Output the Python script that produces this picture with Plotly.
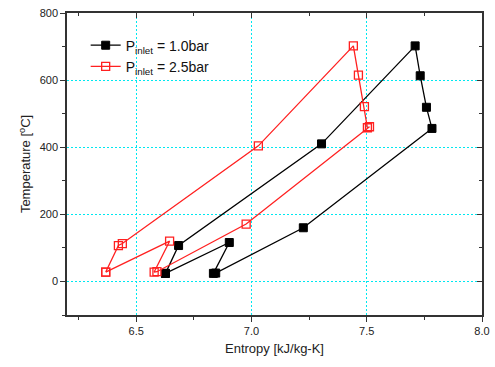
import plotly.graph_objects as go

# P_inlet = 1.0 bar cycle
s_10 = [6.627, 6.684, 7.304, 7.710, 7.732, 7.759, 7.783, 7.225, 6.845, 6.835, 6.904, 6.627]
t_10 = [24, 107, 410, 702, 613, 519, 456, 160, 25, 24, 116, 24]

# P_inlet = 2.5 bar cycle
s_25 = [6.368, 6.423, 6.440, 7.030, 7.442, 7.464, 7.490, 7.503, 7.512, 6.977, 6.590, 6.578, 6.645, 6.368]
t_25 = [28, 107, 113, 404, 702, 615, 521, 458, 461, 171, 29, 28, 120, 28]

names = ["P<sub>inlet</sub> = 1.0bar", "P<sub>inlet</sub> = 2.5bar"]

x_range = [6.2, 8.0]
y_range = [-100, 800]

fig = go.Figure()
fig.add_trace(go.Scatter(
    x=s_10, y=t_10, mode="lines+markers", name=names[0],
    line=dict(color="black", width=1.3),
    marker=dict(symbol="square", size=8, color="black", line=dict(color="black", width=1)),
))
fig.add_trace(go.Scatter(
    x=s_25, y=t_25, mode="lines+markers", name=names[1],
    line=dict(color="#ff2020", width=1.3),
    marker=dict(symbol="square-open", size=8, color="#ff2020", line=dict(color="#ff2020", width=1.3)),
))
# helper trace so the mirrored (top/right) axes are drawn
fig.add_trace(go.Scatter(x=[None], y=[None], xaxis="x2", yaxis="y2", showlegend=False, hoverinfo="skip"))

font = "Liberation Sans, Arial, sans-serif"
grid = dict(showgrid=True, gridcolor="#00e8f0", griddash="2px,2px", gridwidth=1.2)

fig.update_layout(
    width=495, height=367,
    margin=dict(l=67, r=13, t=13, b=52, autoexpand=False),
    paper_bgcolor="white", plot_bgcolor="white",
    font=dict(family=font, size=12, color="#222"),
    showlegend=True,
    legend=dict(x=0.045, y=0.945, xanchor="left", yanchor="top",
                bgcolor="rgba(0,0,0,0)", font=dict(size=14, color="#111"),
                tracegroupgap=2, itemwidth=30),
    xaxis=dict(range=x_range, dtick=0.5, tick0=6.5, tickformat=".1f", automargin=False,
               showline=True, linecolor="#333", linewidth=1.5, mirror=False,
               ticks="outside", ticklen=5, tickwidth=1.3, tickcolor="#333",
               minor=dict(dtick=0.25, tick0=6.25, ticks="outside", ticklen=3, tickcolor="#333", tickwidth=1.2, showgrid=False),
               title=dict(text="Entropy [kJ/kg-K]", font=dict(size=13), standoff=8),
               tickfont=dict(size=11), zeroline=False, **grid),
    yaxis=dict(range=y_range, dtick=200, tick0=0, automargin=False,
               showline=True, linecolor="#333", linewidth=1.5, mirror=False,
               ticks="outside", ticklen=5, tickwidth=1.3, tickcolor="#333",
               minor=dict(dtick=100, tick0=100, ticks="outside", ticklen=3, tickcolor="#333", tickwidth=1.2, showgrid=False),
               title=dict(text="Temperature [<sup>o</sup>C]", font=dict(size=13), standoff=6),
               tickfont=dict(size=11), zeroline=False, **grid),
    xaxis2=dict(range=x_range, overlaying="x", side="top", anchor="y", automargin=False,
                dtick=0.5, tick0=6.5, showticklabels=False, showgrid=False, zeroline=False,
                showline=True, linecolor="#333", linewidth=1.5,
                ticks="inside", ticklen=5, tickwidth=1.3, tickcolor="#333",
                minor=dict(dtick=0.25, tick0=6.25, ticks="inside", ticklen=3, tickcolor="#333", tickwidth=1.2)),
    yaxis2=dict(range=y_range, overlaying="y", side="right", anchor="x", automargin=False,
                dtick=200, tick0=0, showticklabels=False, showgrid=False, zeroline=False,
                showline=True, linecolor="#333", linewidth=1.5,
                ticks="inside", ticklen=5, tickwidth=1.3, tickcolor="#333",
                minor=dict(dtick=100, tick0=100, ticks="inside", ticklen=3, tickcolor="#333", tickwidth=1.2)),
)

fig.write_html("out.html", config={"displayModeBar": False},
               post_script="document.body.style.margin='0';document.body.style.overflow='hidden';")
